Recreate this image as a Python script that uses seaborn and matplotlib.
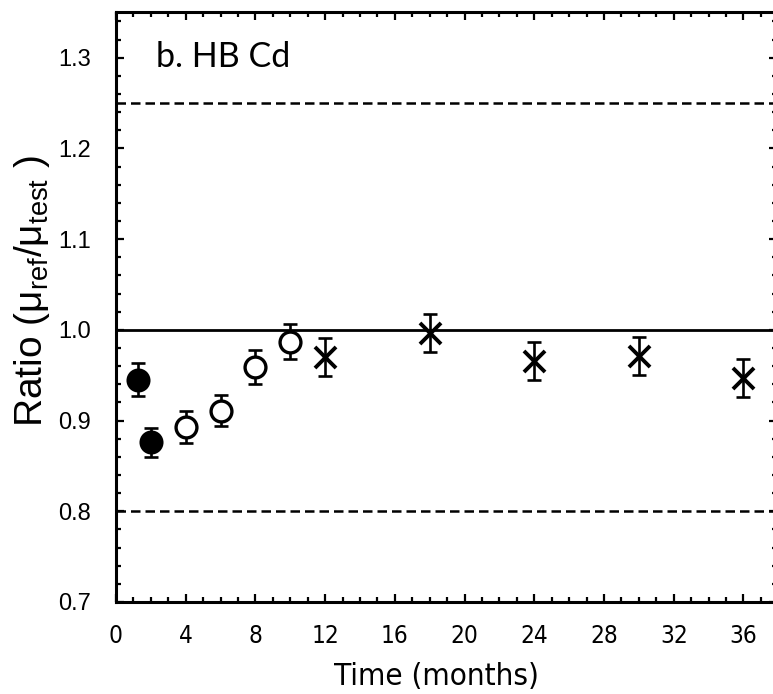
import matplotlib
matplotlib.use("Agg")
import matplotlib.pyplot as plt
from matplotlib.font_manager import FontProperties
from matplotlib.ticker import MultipleLocator
import seaborn as sns
import pandas as pd

# data
t_filled = [1.25, 2.0]
r_filled = [0.945, 0.876]
e_filled = [0.018, 0.016]

t_open = [4, 6, 8, 10]
r_open = [0.893, 0.911, 0.959, 0.987]
e_open = [0.0175, 0.0175, 0.019, 0.019]

t_cross = [12, 18, 24, 30, 36]
r_cross = [0.970, 0.996, 0.966, 0.971, 0.947]
e_cross = [0.021, 0.021, 0.021, 0.021, 0.021]

x_ticks = [0, 4, 8, 12, 16, 20, 24, 28, 32, 36]
y_ticks = [0.7, 0.8, 0.9, 1.0, 1.1, 1.2, 1.3]

ref_line = 1.0
limits = [0.8, 1.25]

sns.set_theme(style="ticks")
plt.rcParams['font.family'] = ['Liberation Sans', 'DejaVu Sans']
plt.rcParams['mathtext.default'] = 'regular'
plt.rcParams['text.color'] = 'black'
plt.rcParams['axes.labelcolor'] = 'black'
plt.rcParams['xtick.color'] = 'black'
plt.rcParams['ytick.color'] = 'black'

narrow = dict(family='DejaVu Sans', stretch='condensed')

fig = plt.figure(figsize=(7.73, 6.94), dpi=100)
# right spine sits just past the right edge of the canvas, as in the reference
ax = fig.add_axes([0.150, 0.1326, 0.8557, 0.8497])

# reference lines
ax.axhline(ref_line, color='black', lw=2.0, zorder=1)
for y in limits:
    ax.axhline(y, color='black', lw=1.8, dashes=(3.8, 2.0), zorder=1)

groups = [
    (t_filled, r_filled, e_filled, dict(marker='o', s=250, color='black', edgecolor='black', linewidth=1.5)),
    (t_open, r_open, e_open, dict(marker='o', s=225, color='white', edgecolor='black', linewidth=2.4)),
    (t_cross, r_cross, e_cross, dict(marker='x', s=230, color='black', linewidth=2.8)),
]
for t, r, e, style in groups:
    ax.errorbar(t, r, yerr=e, fmt='none', ecolor='black', elinewidth=1.9,
                capsize=5, capthick=1.9, zorder=2)
    df = pd.DataFrame({'t': t, 'r': r})
    sns.scatterplot(data=df, x='t', y='r', ax=ax, zorder=3, legend=False, **style)

ax.set_xlim(0, 37.95)
ax.set_ylim(0.7, 1.35)
ax.xaxis.set_minor_locator(MultipleLocator(1))
ax.yaxis.set_minor_locator(MultipleLocator(0.02))
ax.set_xticks(x_ticks, [str(v) for v in x_ticks],
              fontproperties=FontProperties(size=17.5, **narrow))
ax.set_yticks(y_ticks, [f'{v:.1f}' for v in y_ticks],
              fontproperties=FontProperties(family='Liberation Sans', size=17))

ax.tick_params(which='both', direction='in', top=True, right=True, width=1.6)
ax.tick_params(which='major', length=5.5)
ax.tick_params(which='minor', length=3.5)
ax.tick_params(axis='y', pad=18)
ax.tick_params(axis='x', pad=16)

for side in ['left', 'bottom', 'top', 'right']:
    ax.spines[side].set_linewidth(2.2)
    ax.spines[side].set_color('black')

ax.set_xlabel('Time (months)', fontproperties=FontProperties(size=22.5, **narrow))
ax.xaxis.set_label_coords(0.484, -0.102)
ax.set_ylabel('Ratio (μ$_{ref}$/μ$_{test}$ )',
              fontproperties=FontProperties(family='Liberation Sans', size=28))
ax.yaxis.set_label_coords(-0.096, 0.527)
ax.text(0.061, 0.952, 'b. HB Cd', transform=ax.transAxes,
        fontproperties=FontProperties(family='Lato', size=24.5), va='top', ha='left')

fig.savefig('out.png', dpi=100)
